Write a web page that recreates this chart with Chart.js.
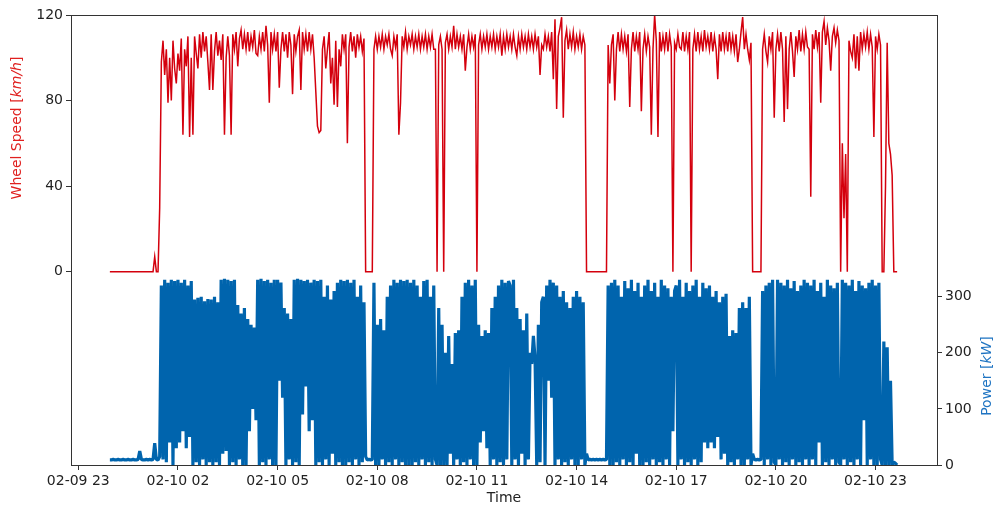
<!DOCTYPE html>
<html><head><meta charset="utf-8">
<script src="https://cdn.jsdelivr.net/npm/chart.js@4.4.1/dist/chart.umd.min.js"></script>
<style>html,body{margin:0;padding:0;background:#fff;} #wrap{width:1000px;height:506px;}</style>
</head><body><div id="wrap"><canvas id="c" width="1000" height="506"></canvas></div>
<script>
// Sampling grid: first sample 02-09 23:57, then every 3 minutes (hours counted from 02-09 00:00)
const startHour = 23.95;
const stepHours = 0.05;

// Wheel speed [km/h], one row per hour of 02-10
const speed = [0,
 0,0,0,0,0,0,0,0,0,0,0,0,0,0,0,0,0,0,0,0,
 0,0,0,0,0,0,7,0,0,30,98,108,92,104,79,100,80,108,95,88,
 102,94,109,64,104,96,110,63,100,64,110,102,95,111,100,112,103,110,98,85,
 111,85,103,112,101,108,99,111,64,100,110,101,64,111,104,112,96,109,113,104,
 111,104,112,103,110,105,113,102,101,110,104,112,103,115,106,79,112,104,111,103,
 112,86,104,112,103,111,100,112,106,83,111,103,110,113,85,112,104,111,103,112,
 104,111,100,84,68,65,66,104,110,95,104,112,88,100,78,108,77,104,96,111,
 104,111,60,105,112,103,110,100,111,105,110,103,109,0,0,0,0,0,104,110,
 104,110,105,111,104,110,106,111,104,101,110,105,111,64,79,110,105,112,104,110,
 106,111,104,110,105,111,104,110,105,111,104,110,105,111,104,104,0,106,110,104,
 0,107,111,104,110,105,115,104,111,105,110,104,111,94,105,111,104,110,105,111,
 0,106,111,104,110,105,111,104,110,105,111,104,110,105,111,101,110,104,111,105,
 110,104,111,105,101,110,104,111,105,110,104,111,105,110,104,111,105,110,92,106,
 104,111,105,110,103,112,90,118,76,110,114,119,72,108,113,104,111,105,112,104,
 110,105,111,104,110,106,0,0,0,0,0,0,0,0,0,0,0,0,0,106,
 88,106,111,80,104,112,103,111,104,110,103,111,77,104,112,103,110,104,112,75,
 104,111,103,110,105,64,104,120,108,63,112,103,110,104,112,103,111,105,0,107,
 104,111,105,104,112,103,110,104,112,0,104,111,103,112,104,110,103,113,105,110,
 104,112,103,110,104,90,111,103,112,104,110,103,112,104,110,103,111,98,104,112,
 119,104,111,104,99,107,0,0,0,0,0,0,104,111,103,98,110,104,112,72,
 104,111,103,112,104,70,110,76,104,112,103,91,110,104,113,103,111,104,112,105,
 104,35,111,104,113,105,112,79,112,117,106,114,108,94,110,114,107,113,108,0,
 60,25,55,0,108,103,100,111,95,110,94,112,104,111,105,112,104,111,105,63,
 110,104,111,106,0,0,40,107,60,55,45,0,0,0
];

// Power [kW], same sampling grid
const power = [9,
 9,10,9,9,10,9,9,10,9,9,10,9,9,10,9,9,10,25,10,9,
 9,10,9,10,9,10,39,10,9,15,320,10,330,5,325,40,330,0,328,30,
 330,40,325,60,330,30,320,50,328,0,295,5,298,0,300,10,292,0,296,5,
 295,0,300,5,290,0,330,20,332,25,330,0,328,5,330,0,285,10,270,0,
 280,0,260,60,250,100,245,80,330,0,332,5,328,0,330,10,325,0,330,0,
 330,150,325,120,280,0,270,10,260,0,330,5,332,0,330,90,328,140,330,60,
 325,80,330,0,328,5,330,0,300,10,320,0,295,20,310,0,325,5,330,0,
 328,0,330,5,325,0,330,10,300,0,320,5,290,15,9,10,9,10,325,0,
 250,0,260,10,240,0,300,5,320,0,330,10,325,0,330,5,328,0,330,0,
 325,0,330,5,320,0,300,10,328,0,330,5,300,0,320,10,0,280,0,250,
 0,200,0,230,20,180,0,235,10,240,0,300,5,325,0,330,10,320,0,330,
 0,250,40,230,60,240,30,235,0,280,10,300,0,320,5,330,0,325,10,328,
 320,0,330,10,280,0,260,20,240,0,270,10,200,180,230,190,0,250,5,290,
 300,0,320,150,330,120,325,0,320,10,300,0,310,5,290,0,280,10,300,0,
 310,0,300,10,290,0,20,9,10,9,10,9,10,9,10,9,10,9,10,320,
 0,325,0,330,5,320,0,300,10,328,0,315,5,330,0,310,20,325,0,300,
 0,320,5,330,0,310,10,325,0,300,5,330,0,320,10,315,0,300,60,310,
 320,0,330,10,300,0,325,5,310,0,320,10,330,0,300,5,325,40,315,30,
 320,40,300,30,310,50,290,10,300,20,305,0,230,5,240,0,235,10,280,0,
 290,0,280,10,300,0,20,10,9,10,9,10,310,0,320,10,325,0,330,5,
 0,330,10,325,0,320,5,330,0,315,10,328,0,310,5,320,0,330,10,325,
 0,320,10,330,0,310,40,325,0,300,5,330,0,320,10,315,0,325,5,0,
 330,10,325,0,320,5,330,0,310,10,328,0,320,80,315,0,325,10,330,0,
 320,0,325,10,0,220,0,210,0,150,0,5,3,0
];

const xTickHours = [23,26,29,32,35,38,41,44,47];
const xTickLabels = ['02-09 23','02-10 02','02-10 05','02-10 08','02-10 11','02-10 14','02-10 17','02-10 20','02-10 23'];
const speedTicks = [0,40,80,120];
const powerTicks = [0,100,200,300];

const speedPts = speed.map((v,i)=>({x:startHour+i*stepHours, y:v}));
const powerPts = power.map((v,i)=>({x:startHour+i*stepHours, y:v}));

const FONT = 'DejaVu Sans';
Chart.defaults.font.family = FONT;
Chart.defaults.font.size = 14;
Chart.defaults.color = '#222';

function drawMixed(ctx,cx,cy,parts,color){
  ctx.save(); ctx.translate(cx,cy); ctx.rotate(-Math.PI/2);
  const fonts = parts.map(p=>(p[1]?'italic ':'')+'14px "'+FONT+'"');
  let total=0;
  const widths = parts.map((p,i)=>{ctx.font=fonts[i]; const w=ctx.measureText(p[0]).width; total+=w; return w;});
  let x=-total/2; ctx.fillStyle=color; ctx.textBaseline='middle'; ctx.textAlign='left';
  parts.forEach((p,i)=>{ctx.font=fonts[i]; ctx.fillText(p[0],x,0); x+=widths[i];});
  ctx.restore();
}

const titles = {
  id:'titles',
  afterDraw(chart){
    const ctx=chart.ctx, a=chart.chartArea;
    ctx.save();
    ctx.strokeStyle='#333'; ctx.lineWidth=1;
    ctx.beginPath(); ctx.moveTo(a.left, a.top+0.5); ctx.lineTo(a.right, a.top+0.5); ctx.stroke();
    drawMixed(ctx, 17.5, 128, [['Wheel Speed [',false],['km/h',true],[']',false]], '#e0201f');
    drawMixed(ctx, 987.5, 376, [['Power [',false],['kW',true],[']',false]], '#1f74c2');
    ctx.font='14px "'+FONT+'"'; ctx.fillStyle='#222'; ctx.textAlign='center'; ctx.textBaseline='middle';
    ctx.fillText('Time', (a.left+a.right)/2, 498);
    ctx.restore();
  }
};

const gridOpts = {display:true, drawOnChartArea:false, drawTicks:true, tickLength:5, color:'#333', tickWidth:1};
const borderOpts = {display:true, color:'#333', width:1};

new Chart(document.getElementById('c'), {
  type:'line',
  data:{datasets:[
    {label:'Wheel Speed', data:speedPts, yAxisID:'y', borderColor:'#d4000d', borderWidth:1.5, pointRadius:0, tension:0, fill:false},
    {label:'Power', data:powerPts, yAxisID:'y1', borderColor:'#0064ad', borderWidth:3.2, borderJoinStyle:'bevel', pointRadius:0, tension:0, fill:false}
  ]},
  options:{
    responsive:false, animation:false, devicePixelRatio:1,
    layout:{padding:{top:15,left:0,right:0,bottom:0}},
    plugins:{legend:{display:false}, tooltip:{enabled:false}},
    scales:{
      x:{type:'linear', position:'bottom', min:22.78, max:48.85,
        afterBuildTicks:(s)=>{s.ticks = xTickHours.map(v=>({value:v}));},
        afterFit:(s)=>{s.height=41;},
        ticks:{autoSkip:false, maxRotation:0, minRotation:0, padding:3, color:'#222',
          callback:(v)=>{const k=xTickHours.indexOf(v); return k>=0?xTickLabels[k]:'';}},
        grid:gridOpts, border:borderOpts},
      y:{type:'linear', position:'left', min:-90.4, max:120,
        afterBuildTicks:(s)=>{s.ticks = speedTicks.map(v=>({value:v}));},
        afterFit:(s)=>{s.width=71;},
        ticks:{padding:3, color:'#222', callback:(v)=>String(v)},
        grid:gridOpts, border:borderOpts},
      y1:{type:'linear', position:'right', min:0, max:802,
        afterBuildTicks:(s)=>{s.ticks = powerTicks.map(v=>({value:v}));},
        afterFit:(s)=>{s.width=63;},
        ticks:{padding:3, color:'#222', callback:(v)=>String(v)},
        grid:gridOpts, border:borderOpts}
    }
  },
  plugins:[titles]
});
</script>
</body></html>
